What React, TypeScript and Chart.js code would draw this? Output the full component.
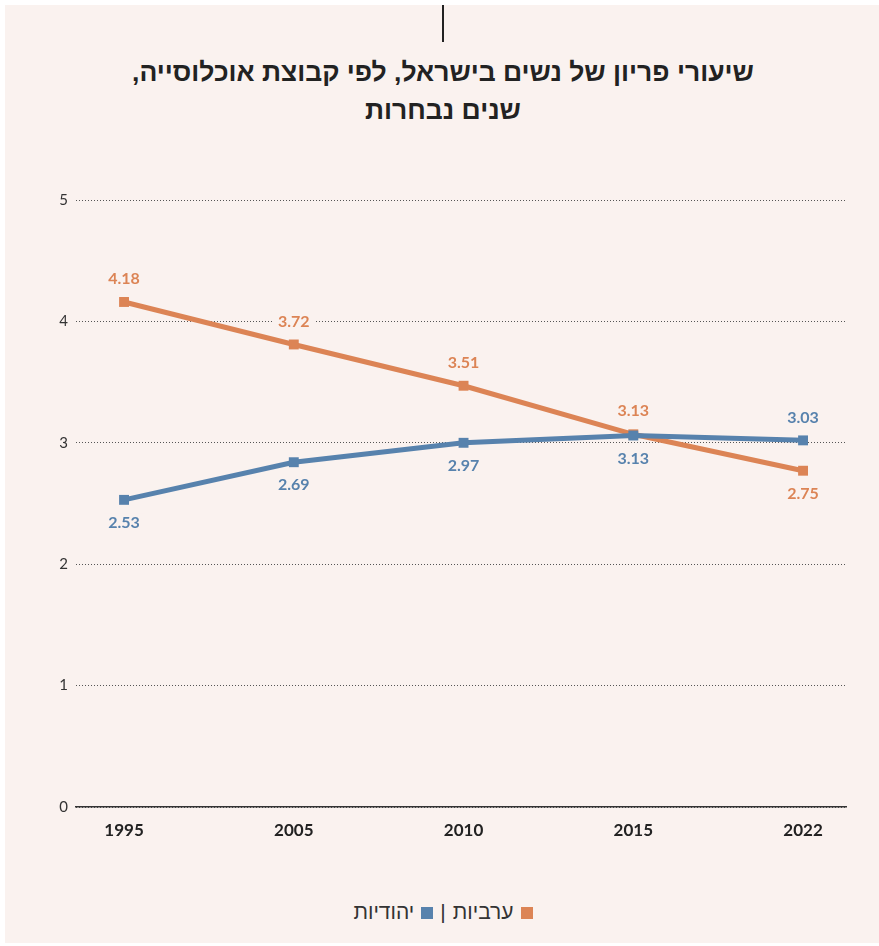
import React, { useEffect, useRef } from "react";
import { Chart, registerables } from "chart.js";

Chart.register(...registerables);

const titleLines = ["שיעורי פריון של נשים בישראל, לפי קבוצת אוכלוסייה,", "שנים נבחרות"];
const years = ["1995", "2005", "2010", "2015", "2022"];
const arabValues = [4.16, 3.81, 3.47, 3.07, 2.77];
const jewishValues = [2.53, 2.84, 3.0, 3.06, 3.02];
const arabLabels = ["4.18", "3.72", "3.51", "3.13", "2.75"];
const jewishLabels = ["2.53", "2.69", "2.97", "3.13", "3.03"];
const arabLabelSide = ["above", "above", "above", "above", "below"];
const jewishLabelSide = ["below", "below", "below", "below", "above"];
const seriesNames = ["ערביות", "יהודיות"];
const yTicks = [0, 1, 2, 3, 4, 5];

const BG = "#faf2ef";
const ORANGE = "#dc8455";
const BLUE = "#5782ad";

const labelPlugin = {
  id: "pointLabels",
  afterDatasetsDraw(chart: any) {
    const ctx = chart.ctx;
    ctx.save();
    ctx.font = "bold 16px Lato, 'Open Sans', sans-serif";
    ctx.textAlign = "center";
    ctx.textBaseline = "middle";
    chart.data.datasets.forEach((ds: any, di: number) => {
      const meta = chart.getDatasetMeta(di);
      meta.data.forEach((pt: any, i: number) => {
        const text = ds.pointTexts[i];
        const side = ds.labelSides[i];
        const y = pt.y + (side === "above" ? -23 : 23);
        const w = ctx.measureText(text).width + 10;
        ctx.fillStyle = BG;
        ctx.fillRect(pt.x - w / 2, y - 9, w, 18);
        ctx.fillStyle = ds.borderColor;
        ctx.fillText(text, pt.x, y);
      });
    });
    ctx.restore();
  },
};

export default function App() {
  const ref = useRef<HTMLCanvasElement>(null);
  useEffect(() => {
    if (!ref.current) return;
    const chart = new Chart(ref.current, {
      type: "line",
      data: {
        datasets: [
          {
            label: seriesNames[1],
            data: jewishValues.map((v, i) => ({ x: i, y: v })),
            borderColor: BLUE,
            backgroundColor: BLUE,
            borderWidth: 5,
            pointStyle: "rect",
            pointRadius: 7,
            pointBorderWidth: 0,
            tension: 0,
            pointTexts: jewishLabels,
            labelSides: jewishLabelSide,
          } as any,
          {
            label: seriesNames[0],
            data: arabValues.map((v, i) => ({ x: i, y: v })),
            borderColor: ORANGE,
            backgroundColor: ORANGE,
            borderWidth: 5,
            pointStyle: "rect",
            pointRadius: 7,
            pointBorderWidth: 0,
            tension: 0,
            pointTexts: arabLabels,
            labelSides: arabLabelSide,
          } as any,
        ],
      },
      options: {
        responsive: false,
        animation: false,
        devicePixelRatio: 1,
        layout: { padding: { left: 0, right: 33, top: 50, bottom: 0 } },
        plugins: {
          legend: { display: false },
          tooltip: { enabled: false },
          title: { display: false },
        },
        scales: {
          x: {
            type: "linear",
            min: -0.283,
            max: 4.253,
            afterBuildTicks: (s: any) => {
              s.ticks = years.map((_, i) => ({ value: i }));
            },
            afterFit: (s: any) => {
              s.height = 43;
            },
            grid: { display: false, drawTicks: false },
            border: { display: true, color: "#333", width: 1.5 },
            ticks: {
              autoSkip: false,
              maxRotation: 0,
              padding: 13,
              color: "#222",
              font: { family: "Lato, 'Open Sans', sans-serif", size: 17, weight: "bold" },
              callback: (v: any) => years[v] ?? "",
            },
          },
          y: {
            min: 0,
            max: 5,
            afterBuildTicks: (s: any) => {
              s.ticks = yTicks.map((v) => ({ value: v }));
            },
            afterFit: (s: any) => {
              s.width = 76;
            },
            grid: { color: "#555", lineWidth: 1, drawTicks: false },
            border: { display: false, dash: [1, 2] },
            ticks: {
              padding: 8,
              color: "#333",
              font: { family: "Lato, 'Open Sans', sans-serif", size: 15 },
            },
          },
        },
      },
      plugins: [labelPlugin],
    } as any);
    return () => chart.destroy();
  }, []);

  return (
    <div style={{ position: "absolute", left: 0, top: 0, width: 879, height: 946, background: "#fff" }}>
      <div style={{ position: "absolute", left: 5, top: 5, width: 874, height: 938, background: BG }} />
      <div style={{ position: "absolute", left: 442, top: 5, width: 2, height: 37, background: "#222" }} />
      <div
        dir="rtl"
        style={{
          position: "absolute",
          left: 0,
          top: 53,
          width: 886,
          textAlign: "center",
          fontFamily: "'Liberation Sans', Arial, sans-serif",
          fontWeight: "bold",
          fontSize: 26.5,
          lineHeight: "38px",
          color: "#222",
        }}
      >
        {titleLines.map((t, i) => (
          <div key={i}>{t}</div>
        ))}
      </div>
      <canvas ref={ref} width={879} height={700} style={{ position: "absolute", left: 0, top: 150 }} />
      <div
        dir="rtl"
        style={{
          position: "absolute",
          left: 0,
          top: 897,
          width: 886,
          textAlign: "center",
          fontFamily: "'Liberation Sans', Arial, sans-serif",
          fontSize: 21,
          lineHeight: "30px",
          color: "#333",
        }}
      >
        <span style={{ display: "inline-block", width: 12, height: 12, background: ORANGE, marginLeft: 7 }} />
        <span>{seriesNames[0]}</span>
        <span style={{ margin: "0 7px" }}>|</span>
        <span style={{ display: "inline-block", width: 12, height: 12, background: BLUE, marginLeft: 7 }} />
        <span>{seriesNames[1]}</span>
      </div>
    </div>
  );
}
